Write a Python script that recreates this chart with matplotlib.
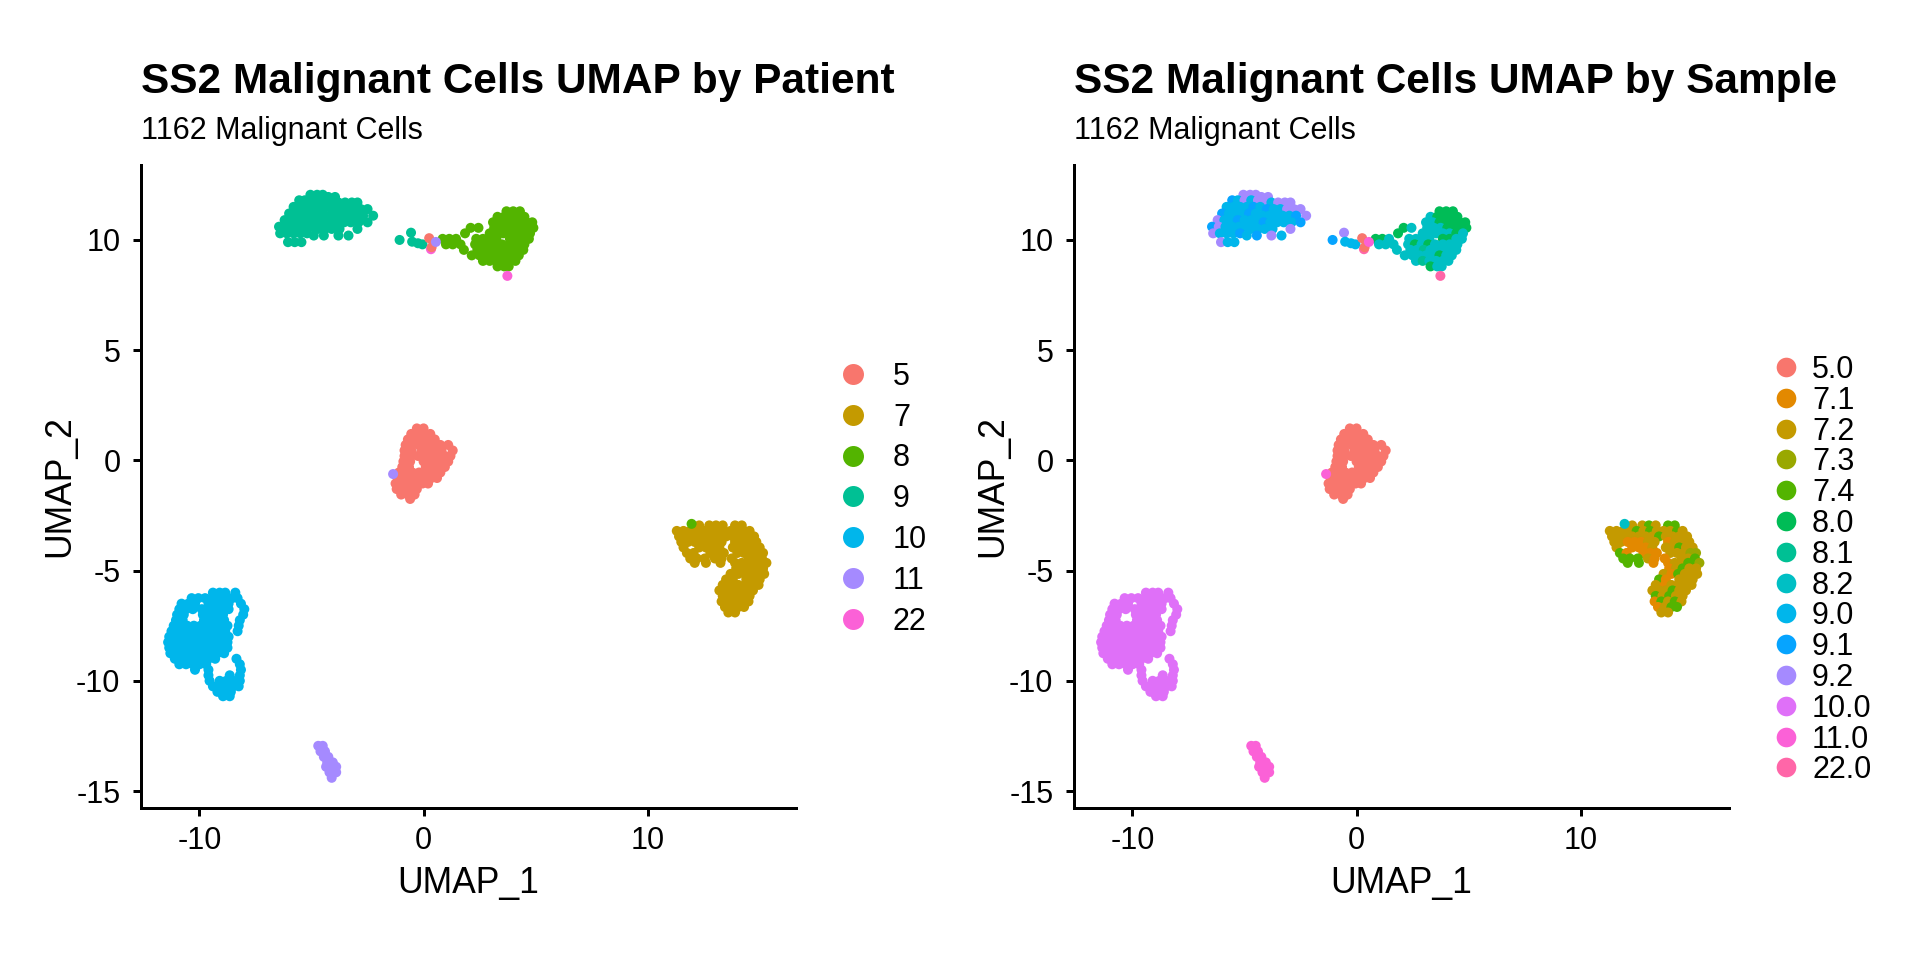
import matplotlib
matplotlib.use("Agg")
import matplotlib.pyplot as plt

plt.rcParams['font.family'] = ['Liberation Sans', 'DejaVu Sans']
plt.rcParams['axes.unicode_minus'] = False

# ---------------- data ----------------
patient_levels = ["5", "7", "8", "9", "10", "11", "22"]
patient_colors = ["#F8766D", "#C49A00", "#53B400", "#00C094", "#00B6EB", "#A58AFF", "#FB61D7"]

sample_levels = ["5.0", "7.1", "7.2", "7.3", "7.4", "8.0", "8.1", "8.2",
                 "9.0", "9.1", "9.2", "10.0", "11.0", "22.0"]
sample_colors = ["#F8766D", "#E38900", "#C49A00", "#99A800", "#53B400", "#00BC56", "#00C094",
                 "#00BFC4", "#00B6EB", "#06A4FF", "#A58AFF", "#DF70F8", "#FB61D7", "#FF66A8"]

# sample codes used inside mixed clusters
sample_codes = {"a": "7.1", "b": "7.2", "c": "7.3", "d": "7.4",
                "e": "8.0", "f": "8.1", "g": "8.2",
                "h": "9.0", "i": "9.1", "j": "9.2"}

# rows of cells: (UMAP_2, "UMAP_1 values [sample code]")
cluster_p9 = [
    (12.05, "-5.05j -4.75j -4.5j"),
    (11.95, "-4.25j -3.95j"),
    (11.8, "-5.55i -5.3h -5.0j -4.7h -4.4j"),
    (11.7, "-4.1j -3.8h -3.5j -3.2j -2.95j"),
    (11.5, "-5.8h -5.5h -5.2h -4.9h -4.6i -4.3h"),
    (11.4, "-4.0i -3.7h -3.4h -3.1j -2.8j -2.5j"),
    (11.2, "-6.0i -5.7h -5.4h -5.1h -4.8i -4.5h"),
    (11.1, "-4.2h -3.9h -3.6h -3.3h -3.0h -2.7i -2.25j"),
    (10.9, "-6.2j -5.9h -5.6h -5.3i -5.0h -4.7h"),
    (10.8, "-4.45h -4.15i -3.85h -3.55h -3.25h -2.9h -2.5i"),
    (10.6, "-6.45i -6.15j -5.85h -5.55h -5.25h -4.95h"),
    (10.5, "-4.7h -4.4h -4.1h -3.75h -2.95j"),
    (10.3, "-6.4j -6.1h -5.8h -5.5h -5.2i"),
    (10.2, "-4.9h -4.45i -3.8j -3.35h"),
    (9.9, "-6.05j -5.75h -5.45h"),
]

cluster_p8 = [
    (11.3, "3.7e 4.0e 4.3e"),
    (11.05, "3.3g 3.6e 3.9e 4.2e 4.5e"),
    (10.8, "3.1g 3.4g 3.7e 4.0e 4.3e 4.6e 4.85e"),
    (10.55, "2.1e 2.45g 3.15g 3.45g 3.75g 4.05e 4.35e 4.65e 4.9e"),
    (10.3, "1.85e 2.95g 3.25g 3.55g 3.85g 4.15g 4.45e 4.75g"),
    (10.05, "0.85e 1.15e 1.45g 2.35g 2.65g 2.95g 3.25g 3.85e 4.15e 4.45g 4.7g"),
    (9.8, "1.0g 1.3g 1.65g 2.3g 2.6e 2.9g 3.2e 3.5g 3.85g 4.15g 4.5g"),
    (9.55, "1.8g 2.4g 2.7g 3.0f 3.3g 3.6g 3.9g 4.2g 4.45g"),
    (9.3, "2.15g 2.5g 2.8g 3.1g 3.4g 3.7e 4.0g 4.25g"),
    (9.05, "2.65g 2.95f 3.25g 3.55g 3.85g 4.1g"),
    (8.8, "3.3e 3.6g 3.8g"),
]

cluster_p5 = [
    (1.45, "-0.3 0.0"),
    (1.2, "-0.55 -0.25 0.05 0.3"),
    (0.95, "-0.7 -0.4 -0.1 0.2 0.5"),
    (0.7, "-0.8 -0.5 -0.2 0.1 0.4 0.75 1.1"),
    (0.45, "-0.85 -0.55 -0.1 0.2 0.5 0.8 1.3"),
    (0.2, "-0.85 -0.55 -0.25 0.05 0.35 0.65 0.95 1.2"),
    (-0.05, "-0.9 -0.6 0.0 0.3 0.6 0.9 1.1"),
    (-0.3, "-0.95 -0.65 0.1 0.4 0.7 0.95"),
    (-0.55, "-1.1 -0.8 -0.5 -0.2 0.1 0.4 0.75"),
    (-0.8, "-1.15 -0.85 -0.55 -0.25 0.05 0.35 0.6"),
    (-1.05, "-1.25 -0.95 -0.65 -0.35 -0.05 0.2"),
    (-1.3, "-1.2 -0.9 -0.6 -0.3"),
    (-1.55, "-1.0 -0.7 -0.4"),
    (-1.75, "-0.6"),
]

cluster_p7 = [
    (-2.95, "12.3b 12.75b 13.05d 13.35b 13.9d 14.2d"),
    (-3.2, "11.3b 11.6b 11.9b 12.2b 12.5d 12.8b 13.1d 13.4b 13.7b 14.0b 14.3d 14.55b"),
    (-3.45, "11.4b 11.7b 12.0b 12.3b 12.6b 12.9b 13.2b 13.5d 13.8b 14.1b 14.4b 14.75b"),
    (-3.7, "11.5b 11.8b 12.1a 12.4a 12.7a 13.0b 13.3b 13.9a 14.2b 14.5b 14.85b"),
    (-3.95, "11.6b 12.3a 12.6a 12.9a 13.2b 13.8b 14.1b 14.4d 14.7b 15.0b"),
    (-4.2, "11.75d 12.05a 12.8a 13.1a 13.4a 14.0b 14.3b 14.6b 14.9c 15.15c"),
    (-4.45, "11.9d 12.2d 12.55d 13.0b 13.3a 13.75a 14.5b 14.8b 15.1d"),
    (-4.65, "12.1d 12.6d 13.25a 13.9a 14.2b 14.5b 14.8d 15.1d 15.3c"),
    (-4.9, "13.95a 14.25b 14.55d 14.85b 15.15b"),
    (-5.15, "13.7b 14.05a 14.35d 14.65b 14.95b 15.2b"),
    (-5.4, "13.5d 13.8a 14.4b 14.7b 15.0b"),
    (-5.65, "13.35b 13.75a 14.05b 14.35b 14.65b 14.95b"),
    (-5.9, "13.2b 13.5b 13.8b 14.1d 14.4b 14.7b"),
    (-6.15, "13.35d 13.65b 13.95d 14.25b 14.55b"),
    (-6.4, "13.3a 13.6d 13.9b 14.2d 14.5b"),
    (-6.65, "13.45a 13.75b 14.05d 14.3d"),
    (-6.9, "13.6b 13.9b"),
]

cluster_p10 = [
    (-6.0, "-9.4 -9.1 -8.85 -8.4"),
    (-6.25, "-10.35 -10.05 -9.75 -9.45 -9.15 -8.85 -8.55 -8.3"),
    (-6.5, "-10.8 -10.5 -10.2 -9.6 -9.3 -9.0 -8.7 -8.15"),
    (-6.75, "-10.9 -10.6 -10.3 -9.9 -9.6 -9.3 -9.0 -8.7 -8.0"),
    (-7.0, "-11.0 -10.7 -9.85 -9.55 -9.25 -8.95 -8.05"),
    (-7.25, "-11.05 -10.75 -9.8 -9.5 -9.2 -8.9 -8.2"),
    (-7.5, "-11.15 -10.85 -10.55 -10.25 -9.95 -9.65 -9.35 -9.05 -8.75 -8.25"),
    (-7.75, "-11.25 -10.95 -10.65 -10.35 -10.05 -9.75 -9.45 -9.15 -8.85 -8.3"),
    (-8.0, "-11.35 -11.05 -10.75 -10.45 -10.15 -9.85 -9.55 -9.25 -8.95 -8.7"),
    (-8.25, "-11.4 -11.1 -10.8 -10.5 -10.2 -9.9 -9.6 -9.3 -9.0 -8.75"),
    (-8.5, "-11.35 -11.05 -10.75 -10.45 -10.15 -9.85 -9.55 -9.25 -8.95 -8.75"),
    (-8.75, "-11.3 -11.0 -10.7 -10.4 -10.1 -9.8 -9.5 -9.2 -8.9"),
    (-9.0, "-11.1 -10.8 -10.5 -10.2 -9.9 -9.6 -9.3 -8.35"),
    (-9.25, "-10.9 -10.6 -10.3 -10.0 -9.7 -8.2"),
    (-9.5, "-10.2 -9.6 -8.15"),
    (-9.75, "-9.6 -8.65 -8.2"),
    (-10.0, "-9.55 -9.1 -8.8 -8.5 -8.2"),
    (-10.25, "-9.4 -9.1 -8.8 -8.5 -8.25"),
    (-10.5, "-9.2 -8.9 -8.6"),
    (-10.7, "-8.95 -8.65"),
]

cluster_p11 = [
    (-12.95, "-4.7 -4.5"),
    (-13.2, "-4.6 -4.4"),
    (-13.45, "-4.45 -4.25"),
    (-13.7, "-4.3 -4.05"),
    (-13.9, "-4.35 -4.1 -3.9"),
    (-14.15, "-4.2 -3.9"),
    (-14.4, "-4.1"),
]

# isolated cells: (UMAP_1, UMAP_2, patient, sample)
stray_cells = [
    (-1.07, 10.0, "9", "9.1"), (-0.56, 10.33, "9", "9.2"), (-0.51, 9.92, "9", "9.0"),
    (-0.25, 9.85, "9", "9.0"), (-0.05, 9.8, "9", "9.0"),
    (0.33, 9.58, "22", "22.0"), (0.25, 10.08, "5", "5.0"), (0.36, 9.67, "5", "5.0"),
    (0.55, 9.91, "11", "11.0"), (3.74, 8.37, "22", "22.0"),
    (-1.36, -0.62, "11", "11.0"), (11.96, -2.88, "8", "8.2"),
]

clusters = [("9", None, cluster_p9), ("8", None, cluster_p8), ("5", "5.0", cluster_p5),
            ("7", None, cluster_p7), ("10", "10.0", cluster_p10), ("11", "11.0", cluster_p11)]

# ---------------- assemble ----------------
umap1, umap2, patient, sample = [], [], [], []
for pat, default, rows in clusters:
    for yv, xs in rows:
        for tok in xs.split():
            if tok[-1].isalpha():
                xv, sm = float(tok[:-1]), sample_codes[tok[-1]]
            else:
                xv, sm = float(tok), default
            umap1.append(xv); umap2.append(yv); patient.append(pat); sample.append(sm)
for xv, yv, pat, sm in stray_cells:
    umap1.append(xv); umap2.append(yv); patient.append(pat); sample.append(sm)

pcol = dict(zip(patient_levels, patient_colors))
scol = dict(zip(sample_levels, sample_colors))

# ---------------- figure ----------------
W, H = 1920, 960
fig = plt.figure(figsize=(W / 100, H / 100), dpi=100)

def px_axes(l, t, r, b):
    return fig.add_axes([l / W, 1 - b / H, (r - l) / W, (b - t) / H])

panels = [
    (px_axes(141, 165, 796, 808), [pcol[p] for p in patient], "SS2 Malignant Cells UMAP by Patient", 141),
    (px_axes(1074, 165, 1729, 808), [scol[s] for s in sample], "SS2 Malignant Cells UMAP by Sample", 1074),
]

for ax, cols, title, left in panels:
    ax.scatter(umap1, umap2, c=cols, s=52, linewidths=0, zorder=2)
    ax.set_xlim(-12.61, 16.62)
    ax.set_ylim(-15.77, 13.40)
    ax.set_xticks([-10, 0, 10])
    ax.set_yticks([-15, -10, -5, 0, 5, 10])
    for side in ["top", "right"]:
        ax.spines[side].set_visible(False)
    for side in ["left", "bottom"]:
        ax.spines[side].set_linewidth(2.16)
        ax.spines[side].set_color("black")
    ax.tick_params(axis="both", length=5.8, width=2.16, labelsize=22, colors="black")
    ax.tick_params(axis="x", pad=7)
    ax.tick_params(axis="y", pad=9)
    ax.set_xlabel("UMAP_1", fontsize=25.6, va="baseline")
    ax.set_ylabel("UMAP_2", fontsize=25.6, va="baseline")
    ax.xaxis.set_label_coords(0.5, -0.132)
    ax.yaxis.set_label_coords(-0.11, 0.5)
    fig.text(left / W, 1 - 93 / H, title, fontsize=30.5, fontweight="bold", va="baseline")
    fig.text(left / W, 1 - 139 / H, "1162 Malignant Cells", fontsize=22, va="baseline")

# legends
lax = fig.add_axes([0, 0, 1, 1], zorder=-1)
lax.set_xlim(0, W); lax.set_ylim(H, 0); lax.axis("off")
for i, (lab, col) in enumerate(zip(patient_levels, patient_colors)):
    yy = 374 + 40.75 * i
    lax.scatter([853], [yy], s=228, color=col, linewidths=0)
    lax.text(893, yy + 11, lab, fontsize=22, va="baseline")
for i, (lab, col) in enumerate(zip(sample_levels, sample_colors)):
    yy = 367 + 30.8 * i
    lax.scatter([1786], [yy], s=200, color=col, linewidths=0)
    lax.text(1812, yy + 11, lab, fontsize=22, va="baseline")

fig.savefig("out.png", dpi=100)
